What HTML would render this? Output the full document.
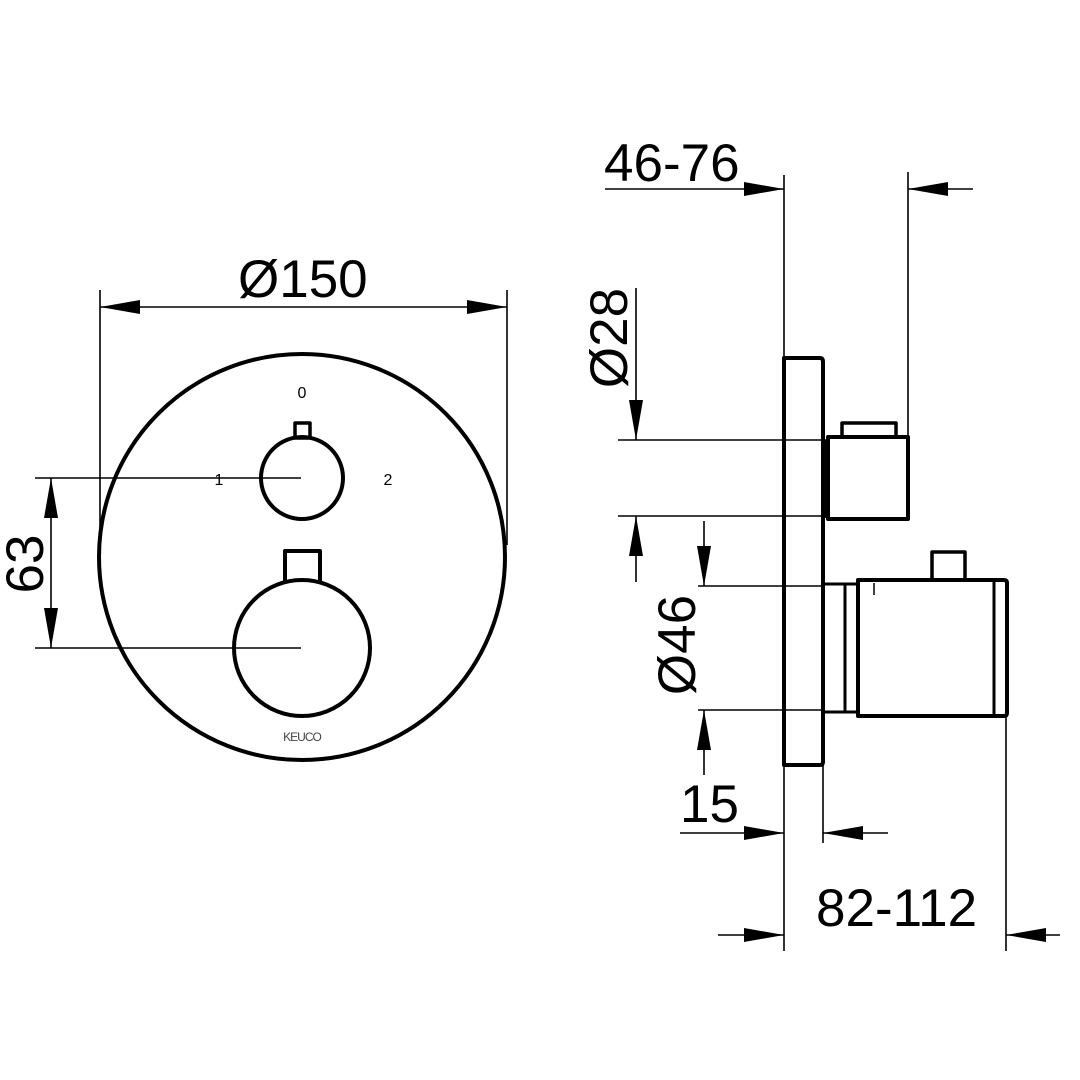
<!DOCTYPE html>
<html><head><meta charset="utf-8"><style>html,body{margin:0;padding:0;background:#fff}svg{display:block}</style></head>
<body>
<svg width="1080" height="1080" viewBox="0 0 1080 1080" xmlns="http://www.w3.org/2000/svg" font-family="Liberation Sans, Arial, sans-serif">
<rect width="1080" height="1080" fill="#fff"/>
<g fill="none" stroke="#000" stroke-linejoin="round">
<circle cx="302" cy="557" r="203" stroke-width="4"/>
<circle cx="302" cy="478" r="41" stroke-width="4"/>
<rect x="295" y="423" width="15" height="15" stroke-width="3.5"/>
<circle cx="302" cy="648" r="68" stroke-width="4"/>
<path d="M285 582 V551 H320 V582" stroke-width="4"/>
<g stroke-width="1.6">
<line x1="35" y1="478" x2="301" y2="478"/>
<line x1="35" y1="648" x2="301" y2="648"/>
<line x1="51" y1="478" x2="51" y2="648"/>
<line x1="100" y1="290" x2="100" y2="545"/>
<line x1="507" y1="290" x2="507" y2="545"/>
<line x1="100" y1="307" x2="507" y2="307"/>
</g>
<path d="M784 765 V358 H820 Q823 358 823 362 V762 Q823 765 820 765 Z" stroke-width="4"/>
<rect x="828" y="437" width="80" height="82" stroke-width="4"/>
<path d="M842 437 V423 H896 V437" stroke-width="3.5"/>
<line x1="826" y1="440" x2="826" y2="518" stroke-width="2"/>
<path d="M823 584 H845 V712 H823" stroke-width="3"/>
<rect x="845" y="584" width="13" height="128" stroke-width="3"/>
<path d="M858 580 H1004 Q1007 580 1007 583 V713 Q1007 716 1004 716 H858 Z" stroke-width="4"/>
<line x1="994" y1="580" x2="994" y2="716" stroke-width="3"/>
<path d="M932 580 V552 H965 V580" stroke-width="3.5"/>
<line x1="874" y1="583" x2="874" y2="595" stroke-width="1.5"/>
<g stroke-width="1.6">
<line x1="784" y1="175" x2="784" y2="951"/>
<line x1="908" y1="172" x2="908" y2="437"/>
<line x1="605" y1="189" x2="784" y2="189"/>
<line x1="908" y1="189" x2="973" y2="189"/>
<line x1="618" y1="440" x2="826" y2="440"/>
<line x1="618" y1="516" x2="826" y2="516"/>
<line x1="636" y1="288" x2="636" y2="440"/>
<line x1="636" y1="516" x2="636" y2="582"/>
<line x1="698" y1="586" x2="823" y2="586"/>
<line x1="698" y1="710" x2="823" y2="710"/>
<line x1="704" y1="521" x2="704" y2="586"/>
<line x1="704" y1="710" x2="704" y2="775"/>
<line x1="823" y1="765" x2="823" y2="843"/>
<line x1="680" y1="833" x2="784" y2="833"/>
<line x1="823" y1="833" x2="888" y2="833"/>
<line x1="1006" y1="716" x2="1006" y2="951"/>
<line x1="718" y1="935" x2="784" y2="935"/>
<line x1="1006" y1="935" x2="1060" y2="935"/>
</g>
</g>
<g fill="#000">
<path d="M100 307 L140 300 L140 314 Z"/><path d="M507 307 L467 300 L467 314 Z"/>
<path d="M51 478 L44 518 L58 518 Z"/><path d="M51 648 L44 608 L58 608 Z"/>
<path d="M784 189 L744 182 L744 196 Z"/><path d="M908 189 L948 182 L948 196 Z"/>
<path d="M636 440 L629 400 L643 400 Z"/><path d="M636 516 L629 556 L643 556 Z"/>
<path d="M704 586 L697 546 L711 546 Z"/><path d="M704 710 L697 750 L711 750 Z"/>
<path d="M784 833 L744 826 L744 840 Z"/><path d="M823 833 L863 826 L863 840 Z"/>
<path d="M784 935 L744 928 L744 942 Z"/><path d="M1006 935 L1046 928 L1046 942 Z"/>
</g>
<g fill="#000" font-size="53">
<text x="238" y="297">Ø150</text>
<text x="604" y="181">46-76</text>
<text x="680" y="822">15</text>
<text x="816" y="926">82-112</text>
<text transform="translate(43 564) rotate(-90)" text-anchor="middle">63</text>
<text transform="translate(627 338) rotate(-90)" text-anchor="middle">Ø28</text>
<text transform="translate(695 645) rotate(-90)" text-anchor="middle">Ø46</text>
</g>
<g fill="#000" font-size="16" text-anchor="middle">
<text x="302" y="398">0</text>
<text x="219" y="485">1</text>
<text x="388" y="485">2</text>
</g>
<text x="302" y="741" font-size="12" text-anchor="middle" fill="#444" letter-spacing="-1">KEUCO</text>
</svg>
</body></html>
